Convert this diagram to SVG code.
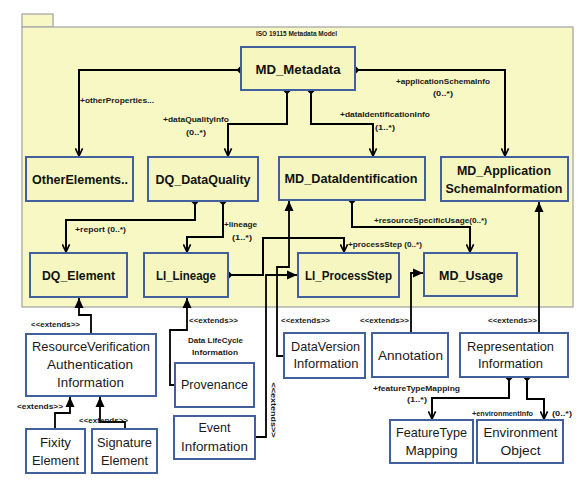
<svg xmlns="http://www.w3.org/2000/svg" width="587" height="493" viewBox="0 0 587 493">
<style>
.pkg{fill:#f7f8c3;stroke:#a8a8a8;stroke-width:1.3}
.yb{fill:#f6f7c0;stroke:#42609c;stroke-width:2}
.wb{fill:#ffffff;stroke:#42609c;stroke-width:2}
.bt{font-family:"Liberation Sans",Arial,sans-serif;font-size:13px;font-weight:bold;fill:#111;text-anchor:middle}
.rt{font-family:"Liberation Sans",Arial,sans-serif;font-size:13.5px;fill:#1a1a1a;text-anchor:middle}
.sl{font-family:"Liberation Sans",Arial,sans-serif;font-size:7.5px;font-weight:bold;fill:#1a1a1a}
.c{fill:none;stroke:#000;stroke-width:2}
.x{fill:none;stroke:#000;stroke-width:1.8}
</style>
<defs>
<marker id="open" viewBox="0 0 10 10" refX="9.5" refY="5" markerWidth="9" markerHeight="9" markerUnits="userSpaceOnUse" orient="auto">
<path d="M1,1 L9.5,5 L1,9" fill="none" stroke="#000" stroke-width="1.8"/>
</marker>
<marker id="fill" viewBox="0 0 10 10" refX="10" refY="5" markerWidth="10" markerHeight="10" markerUnits="userSpaceOnUse" orient="auto">
<path d="M0,0.5 L10,5 L0,9.5 z" fill="#000"/>
</marker>
<polygon id="dia" points="0,-4.5 4.5,0 0,4.5 -4.5,0" fill="#000"/>
</defs>

<g id="package">
<rect class="pkg" x="22" y="14" width="31" height="13"/>
<rect class="pkg" x="22" y="27" width="551" height="280"/>
<text class="sl" x="256" y="36" textLength="81" lengthAdjust="spacingAndGlyphs" style="font-size:7px">ISO 19115 Metadata Model</text>
</g>

<g id="connectors">
<path class="c" d="M241,70 H79 V156" marker-end="url(#open)"/>
<path class="c" d="M287,90 V124 H228 V156" marker-end="url(#open)"/>
<path class="c" d="M311,90 V124 H373 V156" marker-end="url(#open)"/>
<path class="c" d="M355,70 H505 V156" marker-end="url(#open)"/>
<path class="c" d="M195,201 V220 H66 V252" marker-end="url(#open)"/>
<path class="c" d="M223,201 V237 H187 V252" marker-end="url(#open)"/>
<path class="c" d="M352,200 V227 H470 V252" marker-end="url(#open)"/>
<path class="c" d="M228,275 H263 V238 H344 V252" marker-end="url(#open)"/>
<path class="c" d="M509,377 V398 H432 V419" marker-end="url(#open)"/>
<path class="c" d="M527,377 V399 H544 V419" marker-end="url(#open)"/>

<path class="x" d="M91,334 V315 H79 V298" marker-end="url(#fill)"/>
<path class="x" d="M55,429 V413 H70 V397" marker-end="url(#fill)"/>
<path class="x" d="M125,429 V422 H100 V397" marker-end="url(#fill)"/>
<path class="x" d="M175,385 H170 V330 H187 V298" marker-end="url(#fill)"/>
<path class="x" d="M255,437 H266 V275 H297" marker-end="url(#fill)"/>
<path class="x" d="M284,356 H277 V267 H289 V201" marker-end="url(#fill)"/>
<path class="x" d="M411,333 V273 H423" marker-end="url(#fill)"/>
<path class="x" d="M539,333 V202" marker-end="url(#fill)"/>

<use href="#dia" x="241" y="70"/>
<use href="#dia" x="287" y="90"/>
<use href="#dia" x="311" y="90"/>
<use href="#dia" x="355" y="70"/>
<use href="#dia" x="195" y="201"/>
<use href="#dia" x="223" y="201"/>
<use href="#dia" x="352" y="200"/>
<use href="#dia" x="228" y="275"/>
<use href="#dia" x="509" y="377"/>
<use href="#dia" x="527" y="377"/>

<text class="sl" x="80" y="103" textLength="74" lengthAdjust="spacingAndGlyphs">+otherProperties...</text>
<text class="sl" x="163" y="122" textLength="66" lengthAdjust="spacingAndGlyphs">+dataQualityInfo</text>
<text class="sl" x="186" y="135" textLength="20" lengthAdjust="spacingAndGlyphs">(0..*)</text>
<text class="sl" x="340" y="117" textLength="90" lengthAdjust="spacingAndGlyphs">+dataIdentificationInfo</text>
<text class="sl" x="375" y="130" textLength="20" lengthAdjust="spacingAndGlyphs">(1..*)</text>
<text class="sl" x="396" y="84" textLength="94" lengthAdjust="spacingAndGlyphs">+applicationSchemaInfo</text>
<text class="sl" x="433" y="96" textLength="20" lengthAdjust="spacingAndGlyphs">(0..*)</text>
<text class="sl" x="75" y="232" textLength="51" lengthAdjust="spacingAndGlyphs">+report (0..*)</text>
<text class="sl" x="224" y="227" textLength="33" lengthAdjust="spacingAndGlyphs">+lineage</text>
<text class="sl" x="232" y="240" textLength="20" lengthAdjust="spacingAndGlyphs">(1..*)</text>
<text class="sl" x="374" y="223" textLength="113" lengthAdjust="spacingAndGlyphs">+resourceSpecificUsage(0..*)</text>
<text class="sl" x="348" y="247" textLength="74" lengthAdjust="spacingAndGlyphs">+processStep (0..*)</text>
<text class="sl" x="373" y="391" textLength="87" lengthAdjust="spacingAndGlyphs">+featureTypeMapping</text>
<text class="sl" x="407" y="402" textLength="20" lengthAdjust="spacingAndGlyphs">(1..*)</text>
<text class="sl" x="472" y="416" textLength="61" lengthAdjust="spacingAndGlyphs">+environmentInfo</text>
<text class="sl" x="552" y="416" textLength="20" lengthAdjust="spacingAndGlyphs">(0..*)</text>

<text class="sl" x="31" y="327" textLength="49" lengthAdjust="spacingAndGlyphs">&lt;&lt;extends&gt;&gt;</text>
<text class="sl" x="189" y="323" textLength="49" lengthAdjust="spacingAndGlyphs">&lt;&lt;extends&gt;&gt;</text>
<text class="sl" x="281" y="323" textLength="49" lengthAdjust="spacingAndGlyphs">&lt;&lt;extends&gt;&gt;</text>
<text class="sl" x="360" y="323" textLength="49" lengthAdjust="spacingAndGlyphs">&lt;&lt;extends&gt;&gt;</text>
<text class="sl" x="488" y="323" textLength="49" lengthAdjust="spacingAndGlyphs">&lt;&lt;extends&gt;&gt;</text>
<text class="sl" x="17" y="409" textLength="46" lengthAdjust="spacingAndGlyphs">&lt;extends&gt;&gt;</text>
<text class="sl" x="79" y="423" textLength="49" lengthAdjust="spacingAndGlyphs">&lt;&lt;extends&gt;&gt;</text>
<text class="sl" transform="translate(270,410) rotate(90)" x="0" y="-1" text-anchor="middle" textLength="55" lengthAdjust="spacingAndGlyphs">&lt;&lt;extends&gt;&gt;</text>
<text class="sl" x="188" y="343" textLength="55" lengthAdjust="spacingAndGlyphs">Data LifeCycle</text>
<text class="sl" x="192" y="355" textLength="46" lengthAdjust="spacingAndGlyphs">Information</text>
</g>

<g id="MD_Metadata"><rect class="yb" x="241" y="47" width="114" height="43"/><text class="bt" x="298" y="74" textLength="85" lengthAdjust="spacingAndGlyphs">MD_Metadata</text></g>
<g id="OtherElements"><rect class="yb" x="26" y="157" width="107" height="44"/><text class="bt" x="80" y="184" textLength="96" lengthAdjust="spacingAndGlyphs">OtherElements..</text></g>
<g id="DQ_DataQuality"><rect class="yb" x="148" y="157" width="110" height="44"/><text class="bt" x="203" y="184" textLength="95" lengthAdjust="spacingAndGlyphs">DQ_DataQuality</text></g>
<g id="MD_DataIdentification"><rect class="yb" x="279" y="157" width="146" height="43"/><text class="bt" x="351" y="183" textLength="133" lengthAdjust="spacingAndGlyphs">MD_DataIdentification</text></g>
<g id="MD_ApplicationSchemaInformation"><rect class="yb" x="441" y="157" width="127" height="44"/><text class="bt" x="504" y="175" textLength="94" lengthAdjust="spacingAndGlyphs">MD_Application</text><text class="bt" x="504" y="193" textLength="117" lengthAdjust="spacingAndGlyphs">SchemaInformation</text></g>
<g id="DQ_Element"><rect class="yb" x="30" y="253" width="97" height="44"/><text class="bt" x="78.5" y="280" textLength="73" lengthAdjust="spacingAndGlyphs">DQ_Element</text></g>
<g id="LI_Lineage"><rect class="yb" x="144" y="253" width="84" height="44"/><text class="bt" x="186" y="280" textLength="60" lengthAdjust="spacingAndGlyphs">LI_Lineage</text></g>
<g id="LI_ProcessStep"><rect class="yb" x="298" y="253" width="101" height="44"/><text class="bt" x="348.5" y="280" textLength="87" lengthAdjust="spacingAndGlyphs">LI_ProcessStep</text></g>
<g id="MD_Usage"><rect class="yb" x="424" y="253" width="93" height="43"/><text class="bt" x="471" y="280" textLength="64" lengthAdjust="spacingAndGlyphs">MD_Usage</text></g>

<g id="ResourceVerification"><rect class="wb" x="26" y="334" width="130" height="62"/><text class="rt" x="91" y="351" textLength="118" lengthAdjust="spacingAndGlyphs">ResourceVerification</text><text class="rt" x="90" y="369" textLength="86" lengthAdjust="spacingAndGlyphs">Authentication</text><text class="rt" x="90.5" y="387" textLength="67" lengthAdjust="spacingAndGlyphs">Information</text></g>
<g id="FixityElement"><rect class="wb" x="26" y="429" width="59" height="44"/><text class="rt" x="55.5" y="447" textLength="31" lengthAdjust="spacingAndGlyphs">Fixity</text><text class="rt" x="55.5" y="465" textLength="47" lengthAdjust="spacingAndGlyphs">Element</text></g>
<g id="SignatureElement"><rect class="wb" x="92" y="429" width="65" height="44"/><text class="rt" x="124.5" y="447" textLength="55" lengthAdjust="spacingAndGlyphs">Signature</text><text class="rt" x="124.5" y="465" textLength="47" lengthAdjust="spacingAndGlyphs">Element</text></g>
<g id="Provenance"><rect class="wb" x="175" y="363" width="79" height="44"/><text class="rt" x="214.5" y="389" textLength="67" lengthAdjust="spacingAndGlyphs">Provenance</text></g>
<g id="EventInformation"><rect class="wb" x="174" y="416" width="81" height="43"/><text class="rt" x="214.5" y="432" textLength="32" lengthAdjust="spacingAndGlyphs">Event</text><text class="rt" x="214.5" y="451" textLength="67" lengthAdjust="spacingAndGlyphs">Information</text></g>
<g id="DataVersionInformation"><rect class="wb" x="284" y="333" width="81" height="45"/><text class="rt" x="325.5" y="351" textLength="69" lengthAdjust="spacingAndGlyphs">DataVersion</text><text class="rt" x="326" y="368" textLength="65" lengthAdjust="spacingAndGlyphs">Information</text></g>
<g id="Annotation"><rect class="wb" x="372" y="333" width="76" height="44"/><text class="rt" x="410.5" y="360" textLength="65" lengthAdjust="spacingAndGlyphs">Annotation</text></g>
<g id="RepresentationInformation"><rect class="wb" x="460" y="333" width="108" height="44"/><text class="rt" x="510.5" y="351" textLength="87" lengthAdjust="spacingAndGlyphs">Representation</text><text class="rt" x="510.5" y="368" textLength="65" lengthAdjust="spacingAndGlyphs">Information</text></g>
<g id="FeatureTypeMapping"><rect class="wb" x="390" y="420" width="83" height="43"/><text class="rt" x="431.5" y="437" textLength="71" lengthAdjust="spacingAndGlyphs">FeatureType</text><text class="rt" x="431.5" y="455" textLength="52" lengthAdjust="spacingAndGlyphs">Mapping</text></g>
<g id="EnvironmentObject"><rect class="wb" x="477" y="420" width="86" height="43"/><text class="rt" x="520.5" y="437" textLength="74" lengthAdjust="spacingAndGlyphs">Environment</text><text class="rt" x="520.5" y="455" textLength="40" lengthAdjust="spacingAndGlyphs">Object</text></g>
</svg>
